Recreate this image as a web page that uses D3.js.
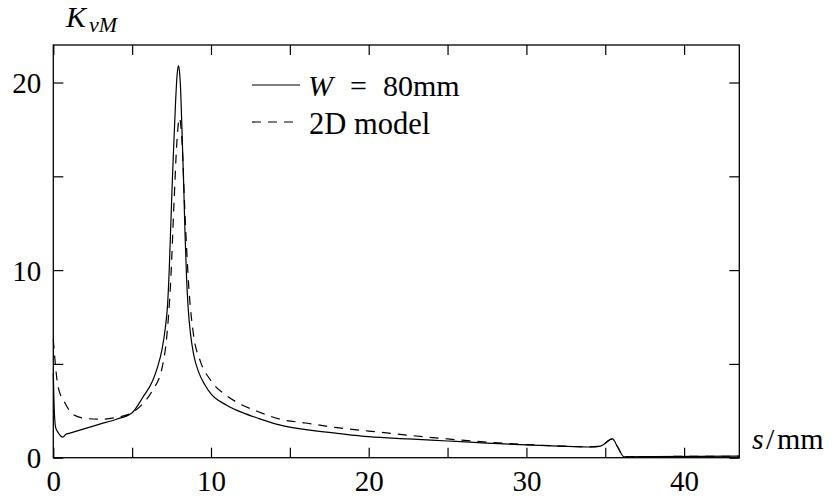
<!DOCTYPE html>
<html>
<head>
<meta charset="utf-8">
<script src="https://cdn.jsdelivr.net/npm/d3@7/dist/d3.min.js"></script>
<style>
  html, body { margin: 0; padding: 0; background: #fff; }
  svg { display: block; }
  text { font-family: "Liberation Serif", "DejaVu Serif", serif; fill: #000; }
</style>
</head>
<body>
<svg id="chart" width="836" height="499"></svg>
<script>
// Arc-length position s (mm) along the path
const sSolid = [0, 0.05, 0.15, 0.3, 0.6, 0.8, 1.0, 2, 3, 4, 5, 5.7, 6.3, 6.6, 6.9, 7.1, 7.25, 7.35, 7.45, 7.55, 7.65, 7.75, 7.85, 7.93,
  8.0, 8.08, 8.18, 8.27, 8.35, 8.45, 8.55, 8.7, 8.9, 9.2, 9.6, 10, 11, 12, 13, 14.4, 16, 18, 20, 22.5, 25, 27.5, 30, 32, 34, 34.7,
  35.45, 35.8, 36.2, 38, 43.5];
// von Mises stress concentration, W = 80mm
const kSolid = [4.5, 2.8, 1.6, 1.35, 1.1, 1.25, 1.3, 1.55, 1.8, 2.05, 2.4, 3.25, 4.1, 4.8, 5.8, 6.9, 8.2, 10.0, 12.4, 14.8, 16.9, 18.9, 20.4, 20.9,
  20.6, 19.5, 16.9, 14.5, 12.0, 9.6, 8.0, 6.6, 5.5, 4.6, 3.9, 3.4, 2.8, 2.4, 2.1, 1.74, 1.5, 1.3, 1.12, 1.0, 0.89, 0.78, 0.68, 0.62, 0.57, 0.62,
  1.0, 0.55, 0.05, 0.06, 0.08];

// 2D model
const sModel = [0, 0.3, 0.75, 1.25, 2, 3, 4, 5, 5.7, 6.3, 6.9, 7.2, 7.45, 7.65, 7.85, 8.0, 8.15, 8.35, 8.6, 8.9, 9.3, 10, 11, 12, 13,
  14.4, 16, 18, 20, 22.5, 25, 27.5, 30, 32, 34, 34.7, 35.45, 35.8, 36.2, 38, 43.5];
const kModel = [6.3, 3.8, 2.9, 2.3, 2.1, 2.05, 2.15, 2.4, 2.9, 3.6, 4.8, 6.5, 9.5, 13.5, 17.0, 18.1, 17.0, 13.0, 9.0, 6.5, 5.2, 4.1, 3.3, 2.8, 2.45,
  2.05, 1.85, 1.6, 1.42, 1.2, 1.0, 0.83, 0.7, 0.63, 0.58, 0.62, 1.0, 0.55, 0.05, 0.06, 0.08];

const xTicks = [0, 5, 10, 15, 20, 25, 30, 35, 40];
const yTicks = [0, 5, 10, 15, 20];
const xDomain = [0, 43.5];
const yDomain = [0, 22];

const svg = d3.select("#chart");
const plotLeft = 53.3, plotRight = 739.3, plotTop = 45, plotBottom = 457.7;
const x = d3.scaleLinear().domain(xDomain).range([plotLeft, plotRight]);
const y = d3.scaleLinear().domain(yDomain).range([plotBottom, plotTop]);

const fs = 29;
const tickLen = 10;
const dashPattern = "9,7";

// curves
const line = d3.line().x(d => x(d[0])).y(d => y(d[1])).curve(d3.curveMonotoneX);
const g = svg.append("g");
g.append("path")
  .datum(sModel.map((s, i) => [s, kModel[i]]))
  .attr("d", line).attr("fill", "none").attr("stroke", "#000")
  .attr("stroke-width", 1.2).attr("stroke-dasharray", dashPattern);
g.append("path")
  .datum(sSolid.map((s, i) => [s, kSolid[i]]))
  .attr("d", line).attr("fill", "none").attr("stroke", "#000")
  .attr("stroke-width", 1.2);

// frame
svg.append("rect")
  .attr("x", plotLeft).attr("y", plotTop).attr("width", plotRight - plotLeft).attr("height", plotBottom - plotTop)
  .attr("fill", "none").attr("stroke", "#000").attr("stroke-width", 1.3);

// axes with inward ticks; labels only on multiples of 10
const fmt = d => (d % 10 === 0 ? d : "");
const xAxis = svg.append("g").attr("transform", `translate(0,${plotBottom})`)
  .call(d3.axisBottom(x).tickValues(xTicks).tickSizeInner(-tickLen).tickSizeOuter(0).tickPadding(0).tickFormat(fmt));
const xAxisTop = svg.append("g").attr("transform", `translate(0,${plotTop})`)
  .call(d3.axisTop(x).tickValues(xTicks).tickSizeInner(-tickLen).tickSizeOuter(0).tickFormat(""));
const yAxis = svg.append("g").attr("transform", `translate(${plotLeft},0)`)
  .call(d3.axisLeft(y).tickValues(yTicks).tickSizeInner(-tickLen).tickSizeOuter(0).tickPadding(0).tickFormat(fmt));
const yAxisRight = svg.append("g").attr("transform", `translate(${plotRight},0)`)
  .call(d3.axisRight(y).tickValues(yTicks).tickSizeInner(-tickLen).tickSizeOuter(0).tickFormat(""));

[xAxis, xAxisTop, yAxis, yAxisRight].forEach(a => {
  a.select(".domain").remove();
  a.selectAll(".tick line").attr("stroke", "#000").attr("stroke-width", 1.2);
  a.attr("font-family", null).attr("font-size", null);
});
xAxis.selectAll(".tick text")
  .attr("y", 33).attr("dy", null).attr("font-size", fs).attr("text-anchor", "middle");
yAxis.selectAll(".tick text")
  .attr("x", -12).attr("dy", "0.35em").attr("font-size", fs).attr("text-anchor", "end");

// axis titles
const yt = svg.append("text").attr("x", 66).attr("y", 27).attr("font-size", 30);
yt.append("tspan").attr("font-style", "italic").text("K");
yt.append("tspan").attr("font-style", "italic").attr("font-size", 22).attr("dy", 5).attr("dx", 3).text("vM");

const xt = svg.append("text").attr("y", 449).attr("font-size", 30);
xt.append("tspan").attr("x", 752).attr("font-style", "italic").text("s");
xt.append("tspan").attr("x", 766).text("/");
xt.append("tspan").attr("x", 777).text("mm");

// legend
const legendX1 = 252, legendX2 = 300, legendText = 308;
const rowSolid = 85, rowDashed = 122;
// solid row: W = 80mm
svg.append("line").attr("x1", legendX1).attr("x2", legendX2).attr("y1", rowSolid).attr("y2", rowSolid)
  .attr("stroke", "#000").attr("stroke-width", 1.2);
const t1 = svg.append("text").attr("y", rowSolid + 11).attr("font-size", 30);
t1.append("tspan").attr("x", legendText).attr("font-style", "italic").text("W");
t1.append("tspan").attr("x", 350).text("=");
t1.append("tspan").attr("x", 383).text("80mm");
// dashed row: 2D model
svg.append("line").attr("x1", legendX1).attr("x2", legendX2).attr("y1", rowDashed).attr("y2", rowDashed)
  .attr("stroke", "#000").attr("stroke-width", 1.2).attr("stroke-dasharray", dashPattern);
svg.append("text").attr("x", legendText + 1).attr("y", rowDashed + 12).attr("font-size", 30.5).text("2D model");
</script>
</body>
</html>
